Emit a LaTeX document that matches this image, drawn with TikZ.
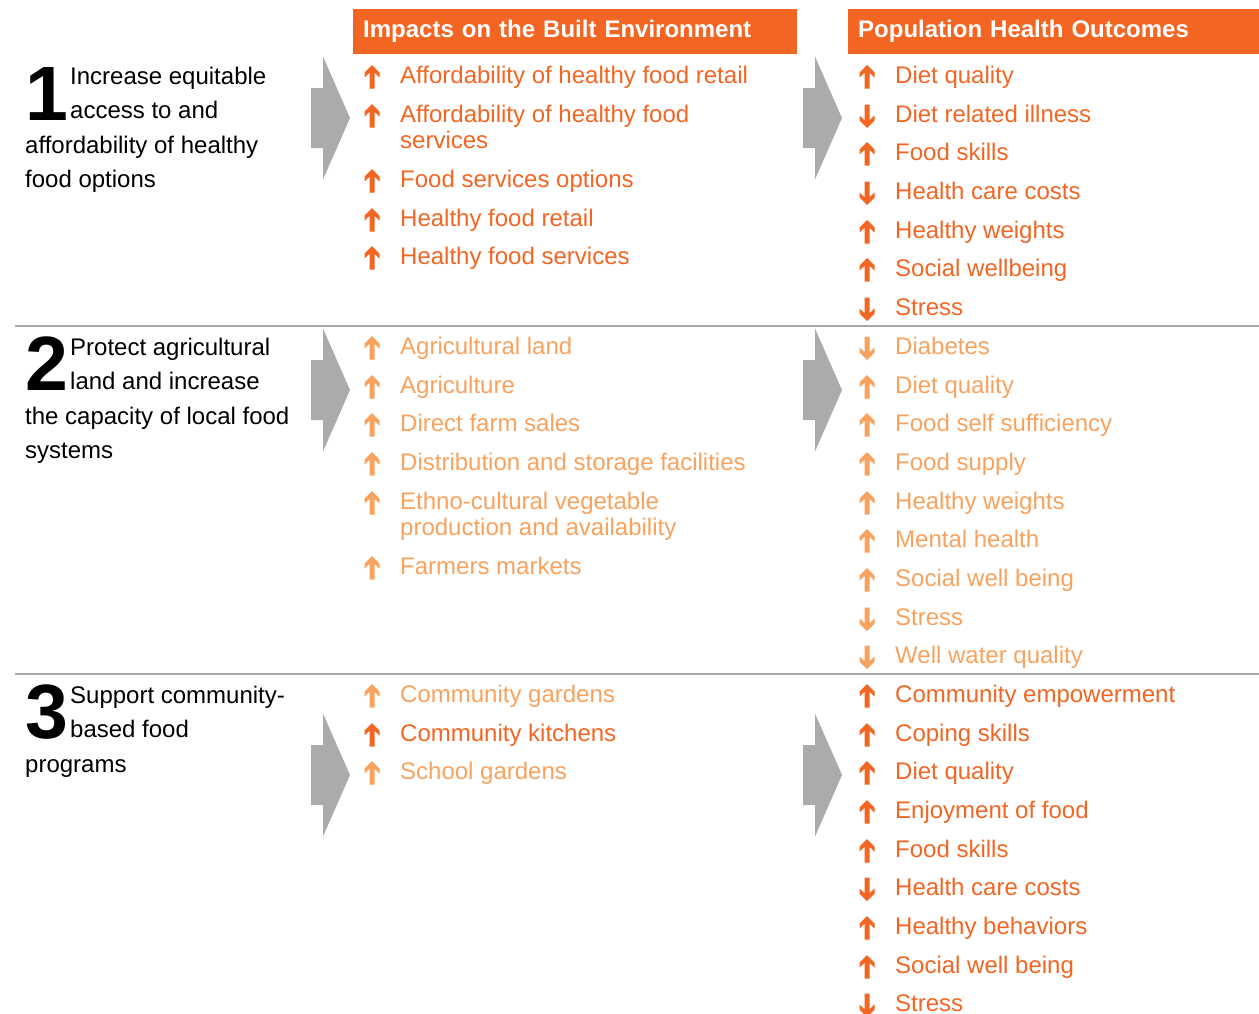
\documentclass[tikz,border=0pt]{standalone}
\usepackage{fontspec}
\setmainfont{Liberation Sans}
\usetikzlibrary{positioning}
\definecolor{hiorange}{HTML}{F26522}
\definecolor{loorange}{HTML}{F8A25E}
\definecolor{arrowgray}{HTML}{ABABAB}
\definecolor{rulegray}{HTML}{A8A8A8}
\tikzset{%
  item/.style={anchor=base west, inner sep=0pt, align=left,
    font=\fontsize{24}{26}\selectfont}, % base sits on the last line
  goal/.style={anchor=base west, inner sep=0pt, align=left,
    font=\fontsize{24}{34.5}\selectfont},
  goalnum/.style={anchor=base west, inner sep=0pt,
    font=\fontsize{77}{77}\selectfont\bfseries},
  headbox/.style={fill=hiorange, text=white, anchor=north west,
    inner xsep=10pt, minimum height=45pt, align=left,
    font=\fontsize{24}{26}\selectfont\bfseries},
  pics/arrup/.style={code={%
    \fill (0,-12) -- (7.5,-4.5) -- (7.5,0.5) -- (2.5,-4.2) -- (2.5,11.5)
      -- (-2.5,11.5) -- (-2.5,-4.2) -- (-7.5,0.5) -- (-7.5,-4.5) -- cycle;
  }},
  pics/bigarrow/.style={code={%
    \fill[arrowgray] (0,-30) -- (12,-30) -- (12,-61.5) -- (39,0)
      -- (12,61.5) -- (12,30) -- (0,30) -- cycle;
  }}
}

\begin{document}
\begin{tikzpicture}[x=1pt, y=-1pt]
  \useasboundingbox (0,0) rectangle (1259,1013);

  % column heads
  \node[headbox, text width=424pt] (head1) at (353,9) {Impacts on the Built Environment};
  \node[headbox, text width=391pt] (head2) at (848,9) {Population Health Outcomes};

  % separators
  \draw[rulegray, line width=1.5pt] (15,326) -- (1259,326);
  \draw[rulegray, line width=1.5pt] (15,674) -- (1259,674);

  % goal 1
  \node[goalnum] (num1) at (25,120) {1};
  \node[goal] (goal1a) at (70,118.5) {Increase equitable\\access to and};
  \node[goal] (goal1b) at (25,187.5) {affordability of healthy\\food options};
  \pic at (311,118) {bigarrow};
  \pic at (803,118) {bigarrow};
  \foreach \txt/\dir/\yy [count=\i] in {%
    Affordability of healthy food retail/1/75,
    {Affordability of healthy food\\services}/1/140,
    Food services options/1/179,
    Healthy food retail/1/218,
    Healthy food services/1/256}{%
    \node[item, text=hiorange] (b1-\i) at (400,\yy+8.5) {\txt};
  }
  \foreach \yy in {75,114,179,218,256}
    \pic[color=hiorange] at (372,\yy+2) {arrup};
  \foreach \txt/\dir/\yy [count=\i] in {%
    Diet quality/1/75, Diet related illness/-1/114, Food skills/1/152,
    Health care costs/-1/191, Healthy weights/1/230,
    Social wellbeing/1/268, Stress/-1/307}{%
    \pic[color=hiorange, yscale=\dir] at (867,\yy+2) {arrup};
    \node[item, text=hiorange] (p1-\i) at (895,\yy+8.5) {\txt};
  }

  % goal 2
  \node[goalnum] (num2) at (25,390) {2};
  \node[goal] (goal2a) at (70,389.5) {Protect agricultural\\land and increase};
  \node[goal] (goal2b) at (25,458.5) {the capacity of local food\\systems};
  \pic at (311,390) {bigarrow};
  \pic at (803,390) {bigarrow};
  \foreach \txt/\yy [count=\i] in {%
    Agricultural land/346,
    Agriculture/385,
    Direct farm sales/423,
    Distribution and storage facilities/462,
    {Ethno-cultural vegetable\\production and availability}/527,
    Farmers markets/566}{%
    \node[item, text=loorange] (b2-\i) at (400,\yy+8.5) {\txt};
  }
  \foreach \yy in {346,385,423,462,501,566}
    \pic[color=loorange] at (372,\yy+2) {arrup};
  \foreach \txt/\dir/\yy [count=\i] in {%
    Diabetes/-1/346, Diet quality/1/385, Food self sufficiency/1/423,
    Food supply/1/462, Healthy weights/1/501, Mental health/1/539,
    Social well being/1/578, Stress/-1/617, Well water quality/-1/655}{%
    \pic[color=loorange, yscale=\dir] at (867,\yy+2) {arrup};
    \node[item, text=loorange] (p2-\i) at (895,\yy+8.5) {\txt};
  }

  % goal 3
  \node[goalnum] (num3) at (25,738) {3};
  \node[goal] (goal3a) at (70,737.5) {Support community-\\based food};
  \node[goal] (goal3b) at (25,772) {programs};
  \pic at (311,775) {bigarrow};
  \pic at (803,775) {bigarrow};
  \foreach \txt/\col/\yy [count=\i] in {%
    Community gardens/loorange/694,
    Community kitchens/hiorange/733,
    School gardens/loorange/771}{%
    \pic[color=\col] at (372,\yy+2) {arrup};
    \node[item, text=\col] (b3-\i) at (400,\yy+8.5) {\txt};
  }
  \foreach \txt/\dir/\yy [count=\i] in {%
    Community empowerment/1/694, Coping skills/1/733, Diet quality/1/771,
    Enjoyment of food/1/810, Food skills/1/849, Health care costs/-1/887,
    Healthy behaviors/1/926, Social well being/1/965, Stress/-1/1003}{%
    \pic[color=hiorange, yscale=\dir] at (867,\yy+2) {arrup};
    \node[item, text=hiorange] (p3-\i) at (895,\yy+8.5) {\txt};
  }
\end{tikzpicture}
\end{document}
